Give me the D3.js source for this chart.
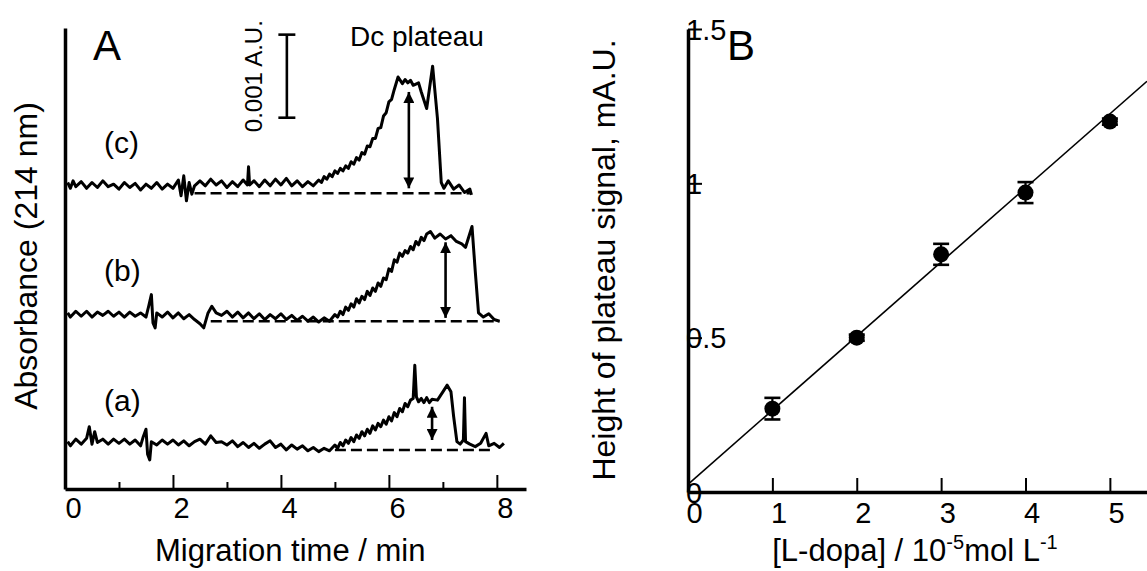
<!DOCTYPE html>
<html>
<head>
<meta charset="utf-8">
<script src="https://cdn.jsdelivr.net/npm/d3@7"></script>
<style>
  body { margin: 0; background: #fff; }
  svg { display: block; font-family: "Liberation Sans", Arial, sans-serif; }
  .axis path, .axis line { stroke: #000; }
  .axis text { fill: #000; font-family: "Liberation Sans", Arial, sans-serif; }
</style>
</head>
<body>
<div id="chart"></div>
<script>
// ---- Panel A: electropherograms, [time (min), signal above dashed baseline (mAU)]
const traceA = [[0.05,0.1],[0.1,0.05],[0.2,0.13],[0.3,0.07],[0.4,0.14],[0.45,0.28],[0.5,0.07],[0.55,0.22],[0.6,0.09],[0.7,0.13],[0.8,0.07],[0.9,0.13],[1.0,0.08],[1.1,0.13],[1.2,0.07],[1.3,0.12],[1.4,0.05],[1.45,0.16],[1.5,0.25],[1.53,-0.05],[1.57,-0.12],[1.6,0.1],[1.7,0.06],[1.8,0.12],[1.9,0.07],[2.0,0.12],[2.1,0.06],[2.2,0.11],[2.3,0.05],[2.4,0.1],[2.5,0.13],[2.6,0.07],[2.7,0.17],[2.8,0.09],[2.9,0.1],[3.0,0.06],[3.1,0.11],[3.2,0.04],[3.3,0.09],[3.4,0.03],[3.5,0.08],[3.6,0.02],[3.7,0.07],[3.8,0.11],[3.9,0.03],[4.0,0.07],[4.1,0.0],[4.2,0.06],[4.3,0.01],[4.4,0.05],[4.5,-0.01],[4.6,0.03],[4.7,-0.02],[4.8,0.02],[4.9,-0.01],[5.0,0.06],[5.05,0.02],[5.1,0.09],[5.15,0.05],[5.2,0.12],[5.25,0.08],[5.3,0.15],[5.35,0.1],[5.4,0.18],[5.45,0.14],[5.5,0.22],[5.55,0.17],[5.6,0.25],[5.65,0.2],[5.7,0.29],[5.75,0.24],[5.8,0.32],[5.85,0.28],[5.9,0.36],[5.95,0.31],[6.0,0.4],[6.05,0.35],[6.1,0.45],[6.15,0.4],[6.2,0.5],[6.25,0.46],[6.3,0.56],[6.35,0.52],[6.4,0.6],[6.45,0.62],[6.48,1.02],[6.51,0.64],[6.55,0.58],[6.6,0.62],[6.65,0.57],[6.7,0.63],[6.75,0.57],[6.8,0.61],[6.9,0.6],[7.0,0.7],[7.08,0.78],[7.15,0.7],[7.2,0.4],[7.26,0.1],[7.32,0.07],[7.38,0.12],[7.4,0.63],[7.42,0.1],[7.5,0.07],[7.6,0.04],[7.7,0.08],[7.8,0.2],[7.85,0.05],[7.95,0.08],[8.05,0.03],[8.13,0.08]];

const traceB = [[0.05,0.1],[0.1,0.05],[0.2,0.12],[0.3,0.06],[0.4,0.12],[0.5,0.05],[0.6,0.11],[0.7,0.07],[0.8,0.12],[0.9,0.06],[1.0,0.11],[1.1,0.05],[1.2,0.11],[1.3,0.06],[1.4,0.1],[1.5,0.05],[1.55,0.18],[1.6,0.32],[1.63,-0.02],[1.67,-0.08],[1.7,0.1],[1.8,0.05],[1.9,0.11],[2.0,0.04],[2.1,0.1],[2.2,0.03],[2.3,0.08],[2.4,0.02],[2.5,-0.03],[2.57,-0.08],[2.65,0.1],[2.72,0.18],[2.8,0.1],[2.9,0.07],[3.0,0.12],[3.1,0.05],[3.2,0.11],[3.3,0.04],[3.4,0.1],[3.5,0.03],[3.6,0.09],[3.7,0.02],[3.8,0.08],[3.9,0.03],[4.0,0.09],[4.1,0.02],[4.2,0.07],[4.3,0.01],[4.4,0.06],[4.5,0.0],[4.6,0.05],[4.7,-0.01],[4.8,0.04],[4.9,0.0],[5.0,0.08],[5.05,0.05],[5.1,0.12],[5.15,0.08],[5.2,0.17],[5.25,0.13],[5.3,0.21],[5.35,0.17],[5.4,0.27],[5.45,0.22],[5.5,0.3],[5.55,0.26],[5.6,0.36],[5.65,0.31],[5.7,0.4],[5.75,0.36],[5.8,0.46],[5.85,0.42],[5.9,0.52],[5.95,0.5],[6.0,0.63],[6.05,0.6],[6.1,0.74],[6.15,0.71],[6.2,0.82],[6.25,0.78],[6.3,0.85],[6.35,0.82],[6.4,0.9],[6.45,0.86],[6.5,0.96],[6.55,0.92],[6.6,1.01],[6.65,0.97],[6.7,1.05],[6.77,1.08],[6.85,1.0],[6.95,1.05],[7.05,0.99],[7.15,1.03],[7.25,0.96],[7.35,0.93],[7.42,0.89],[7.54,1.14],[7.6,0.6],[7.66,0.1],[7.75,0.05],[7.85,0.09],[7.95,0.02],[8.05,0.0]];

const traceC = [[0.05,0.13],[0.1,0.06],[0.15,0.15],[0.2,0.08],[0.3,0.14],[0.4,0.06],[0.5,0.13],[0.6,0.07],[0.7,0.15],[0.8,0.08],[0.9,0.11],[1.0,0.05],[1.1,0.13],[1.2,0.07],[1.3,0.12],[1.4,0.04],[1.5,0.11],[1.6,0.06],[1.7,0.13],[1.8,0.05],[1.9,0.11],[2.0,0.06],[2.1,0.16],[2.15,-0.03],[2.2,0.21],[2.25,-0.09],[2.3,0.13],[2.35,-0.01],[2.4,0.09],[2.5,0.15],[2.6,0.09],[2.7,0.17],[2.8,0.1],[2.9,0.15],[3.0,0.07],[3.1,0.14],[3.2,0.08],[3.3,0.16],[3.38,0.1],[3.4,0.32],[3.42,0.1],[3.5,0.15],[3.6,0.08],[3.7,0.16],[3.8,0.09],[3.9,0.17],[4.0,0.1],[4.1,0.18],[4.2,0.09],[4.3,0.15],[4.4,0.08],[4.5,0.14],[4.6,0.09],[4.7,0.16],[4.75,0.13],[4.8,0.2],[4.85,0.17],[4.9,0.23],[4.95,0.2],[5.0,0.27],[5.05,0.24],[5.1,0.3],[5.15,0.27],[5.2,0.33],[5.25,0.3],[5.3,0.38],[5.35,0.35],[5.4,0.43],[5.45,0.4],[5.5,0.49],[5.55,0.47],[5.6,0.57],[5.65,0.56],[5.7,0.66],[5.75,0.66],[5.8,0.78],[5.85,0.79],[5.9,0.93],[5.95,0.97],[6.0,1.1],[6.05,1.13],[6.1,1.25],[6.17,1.4],[6.25,1.32],[6.3,1.37],[6.35,1.33],[6.4,1.36],[6.45,1.3],[6.55,1.33],[6.6,1.22],[6.7,1.02],[6.81,1.53],[6.9,0.9],[6.97,0.13],[7.02,0.06],[7.1,0.15],[7.2,0.05],[7.3,0.1],[7.4,0.01],[7.5,0.05],[7.53,-0.02]];

const traceNames = ["(a)", "(b)", "(c)"];
const traceOffsets = [0.47, 2.02, 3.56];          // dashed baseline level, mAU
const dashedSpans = [[5.0, 7.95], [2.7, 8.05], [2.4, 7.5]];  // min
const plateauArrows = [[6.8, 0.52, 0.12], [7.05, 0.95, 0.04], [6.37, 1.22, 0.06]]; // time, top, bottom
const scaleBarA = [4.11, 4.47, 5.47];             // time, from, to (mAU) = 0.001 A.U.
const timeMajorTicks = [0, 2, 4, 6, 8];
const timeMinorTicks = [1, 3, 5, 7];

// ---- Panel B: calibration
const dopaConc = [1, 2, 3, 4, 5];
const plateauHeight = [0.27, 0.50, 0.77, 0.97, 1.20];
const plateauErr = [0.035, 0.01, 0.034, 0.034, 0.01];
const fitSlope = 0.24;
const fitIntercept = 0.025;
const concTicks = [0, 1, 2, 3, 4, 5];
const heightTicks = [0, 0.5, 1, 1.5];

const W = 1147, H = 571;
const svg = d3.select("#chart").append("svg").attr("width", W).attr("height", H);
const fmt = d3.format("~g");

// ================= Panel A =================
const xA = d3.scaleLinear().domain([0, 8.54]).range([65, 526]);
const yA = d3.scaleLinear().domain([0, 5.55]).range([489, 28]);

const gA = svg.append("g");

gA.append("g").attr("class", "axis")
    .attr("transform", "translate(0,489)")
    .call(d3.axisBottom(xA).tickValues(timeMinorTicks).tickSize(-7).tickSizeOuter(0).tickFormat(""))
    .call(g => g.select(".domain").remove())
    .call(g => g.selectAll("line").attr("stroke-width", 2));

gA.append("g").attr("class", "axis")
    .attr("transform", "translate(0,489)")
    .call(d3.axisBottom(xA).tickValues(timeMajorTicks).tickSize(-14).tickSizeOuter(0).tickPadding(8).tickFormat(fmt))
    .call(g => g.select(".domain").attr("stroke-width", 3.5))
    .call(g => g.selectAll("line").attr("stroke-width", 2))
    .call(g => g.selectAll("text").attr("font-size", 29).attr("text-anchor", "start").attr("x", 0));

gA.append("g").attr("class", "axis")
    .attr("transform", "translate(65,0)")
    .call(d3.axisLeft(yA).tickValues([]).tickSizeOuter(0))
    .call(g => g.select(".domain").attr("stroke-width", 3.5));

const lineA = d3.line().x(d => xA(d[0])).y(d => yA(d[1]));
[traceA, traceB, traceC].forEach((tr, i) => {
    const off = traceOffsets[i];
    gA.append("path")
        .datum(tr.map(d => [d[0], d[1] + off]))
        .attr("fill", "none").attr("stroke", "#000")
        .attr("stroke-width", 3).attr("stroke-linejoin", "round")
        .attr("d", lineA);
    gA.append("line")
        .attr("x1", xA(dashedSpans[i][0])).attr("x2", xA(dashedSpans[i][1]))
        .attr("y1", yA(off)).attr("y2", yA(off))
        .attr("stroke", "#000").attr("stroke-width", 2.6).attr("stroke-dasharray", "11,5");
});

// double arrows
const defs = svg.append("defs");
defs.append("marker").attr("id", "ah").attr("viewBox", "0 0 10 10")
    .attr("refX", 10).attr("refY", 5).attr("markerWidth", 4.2).attr("markerHeight", 4.2)
    .attr("orient", "auto-start-reverse").attr("markerUnits", "strokeWidth")
    .append("path").attr("d", "M0,0 L10,5 L0,10 z").attr("fill", "#000");

plateauArrows.forEach((a, i) => {
    const off = traceOffsets[i];
    gA.append("line")
        .attr("x1", xA(a[0])).attr("x2", xA(a[0]))
        .attr("y1", yA(a[1] + off)).attr("y2", yA(a[2] + off))
        .attr("stroke", "#000").attr("stroke-width", 2.6)
        .attr("marker-start", "url(#ah)").attr("marker-end", "url(#ah)");
});

// scale bar
const sbX = xA(scaleBarA[0]);
gA.append("line").attr("x1", sbX).attr("x2", sbX)
    .attr("y1", yA(scaleBarA[1])).attr("y2", yA(scaleBarA[2]))
    .attr("stroke", "#000").attr("stroke-width", 2.6);
[scaleBarA[1], scaleBarA[2]].forEach(v => {
    gA.append("line").attr("x1", sbX - 8.5).attr("x2", sbX + 8.5)
        .attr("y1", yA(v)).attr("y2", yA(v))
        .attr("stroke", "#000").attr("stroke-width", 2.6);
});
gA.append("text")
    .attr("transform", `translate(${sbX - 25},${yA((scaleBarA[1] + scaleBarA[2]) / 2)}) rotate(-90)`)
    .attr("text-anchor", "middle").attr("font-size", 24).text("0.001 A.U.");

gA.append("text").attr("x", 350).attr("y", 46).attr("font-size", 28).text("Dc plateau");

traceNames.forEach((n, i) => {
    gA.append("text").attr("x", 104).attr("y", [411, 281, 153][i])
        .attr("font-size", 30).text(n);
});

gA.append("text").attr("x", 93).attr("y", 60).attr("font-size", 42).text("A");
gA.append("text").attr("x", 155).attr("y", 561).attr("font-size", 31).text("Migration time / min");
gA.append("text").attr("transform", "translate(37,256) rotate(-90)")
    .attr("text-anchor", "middle").attr("font-size", 32).text("Absorbance (214 nm)");

// ================= Panel B =================
const xB = d3.scaleLinear().domain([0, 5.44]).range([688, 1147]);
const yB = d3.scaleLinear().domain([0, 1.5]).range([492, 29]);
const gB = svg.append("g");

gB.append("g").attr("class", "axis")
    .attr("transform", "translate(0,492)")
    .call(d3.axisBottom(xB).tickValues(concTicks).tickSize(-14).tickSizeOuter(0).tickPadding(10).tickFormat(fmt))
    .call(g => g.select(".domain").attr("stroke-width", 3.5))
    .call(g => g.selectAll("line").attr("stroke-width", 2))
    .call(g => g.selectAll("text").attr("font-size", 29).attr("text-anchor", "start").attr("x", -2));

gB.append("g").attr("class", "axis")
    .attr("transform", "translate(688,0)")
    .call(d3.axisLeft(yB).tickValues(heightTicks).tickSize(-14).tickSizeOuter(0).tickFormat(fmt))
    .call(g => g.select(".domain").attr("stroke-width", 3.5))
    .call(g => g.selectAll("line").attr("stroke-width", 2))
    .call(g => g.selectAll("text").attr("font-size", 29).attr("text-anchor", "start")
        .attr("x", -2).attr("dy", "0.35em"));

gB.append("line")
    .attr("x1", xB(0)).attr("y1", yB(fitIntercept))
    .attr("x2", xB(5.44)).attr("y2", yB(fitIntercept + fitSlope * 5.44))
    .attr("stroke", "#000").attr("stroke-width", 1.6);

const pts = dopaConc.map((c, i) => ({ c, h: plateauHeight[i], e: plateauErr[i] }));
const eb = gB.selectAll(".eb").data(pts).enter().append("g").attr("class", "eb");
eb.append("line")
    .attr("x1", d => xB(d.c)).attr("x2", d => xB(d.c))
    .attr("y1", d => yB(d.h - d.e)).attr("y2", d => yB(d.h + d.e))
    .attr("stroke", "#000").attr("stroke-width", 2.2);
[-1, 1].forEach(s => {
    eb.append("line")
        .attr("x1", d => xB(d.c) - 8).attr("x2", d => xB(d.c) + 8)
        .attr("y1", d => yB(d.h + s * d.e)).attr("y2", d => yB(d.h + s * d.e))
        .attr("stroke", "#000").attr("stroke-width", 2.6);
});
gB.selectAll(".pt").data(pts).enter().append("circle").attr("class", "pt")
    .attr("cx", d => xB(d.c)).attr("cy", d => yB(d.h)).attr("r", 8).attr("fill", "#000");

gB.append("text").attr("x", 727).attr("y", 60).attr("font-size", 42).text("B");
gB.append("text").attr("transform", "translate(615,260) rotate(-90)")
    .attr("text-anchor", "middle").attr("font-size", 32).text("Height of plateau signal, mA.U.");

const xt = gB.append("text").attr("x", 915).attr("y", 561)
    .attr("text-anchor", "middle").attr("font-size", 31);
xt.append("tspan").text("[L-dopa] / 10");
xt.append("tspan").attr("font-size", 20).attr("dy", -12).text("-5");
xt.append("tspan").attr("dy", 12).text("mol L");
xt.append("tspan").attr("font-size", 20).attr("dy", -12).text("-1");
</script>
</body>
</html>
